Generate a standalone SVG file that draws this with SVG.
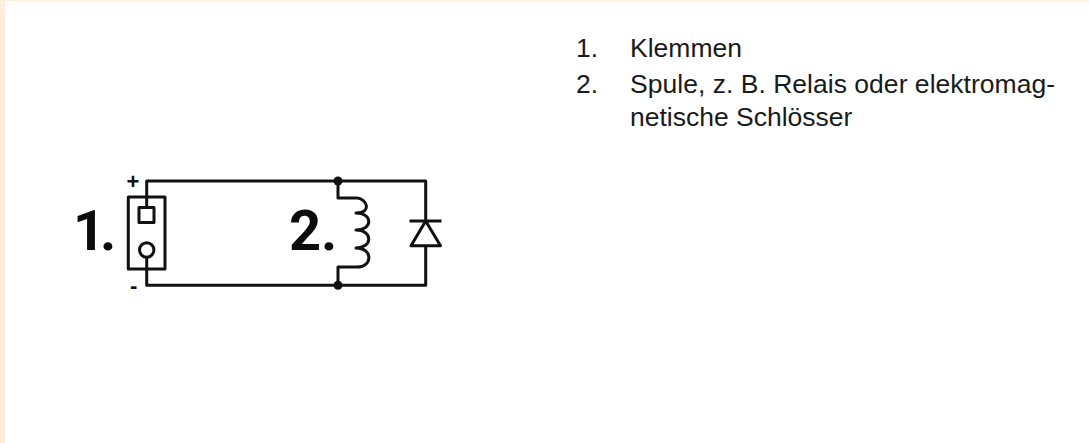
<svg xmlns="http://www.w3.org/2000/svg" width="1089" height="443" viewBox="0 0 1089 443">
<style>
.w{fill:none;stroke:#111;stroke-width:3;stroke-linejoin:round}
.t{font-family:"Liberation Sans",Arial,sans-serif;font-size:26.5px;fill:#1a1a1a}
.n{font-family:Roboto,"Liberation Sans",sans-serif;font-size:56px;font-weight:700;fill:#0c0c0c}
.s{font-family:"Liberation Sans",Arial,sans-serif;font-size:22px;font-weight:bold;fill:#111}
</style>
<rect width="1089" height="443" fill="#fff"/>
<rect width="1089" height="1" fill="#ffeedd"/>
<rect width="5" height="443" fill="#ffeedd"/>
<g id="connectors">
<path class="w" d="M146.7 207V181H425.7V221M425.7 246V285.3H146.7V257"/>
<path class="w" d="M338 181V198H357C366 198 373 213 356 213C373 213 373 230 356 230C373 230 373 248 356 248C373 248 373 267 357 267H338V285.3"/>
</g>
<g id="terminal">
<rect class="w" x="128.3" y="197" width="36.7" height="72"/>
<rect class="w" x="139" y="207.5" width="15" height="15"/>
<circle class="w" cx="146.7" cy="250" r="7.2"/>
<text class="s" x="126.5" y="189">+</text>
<text class="s" x="130" y="293">-</text>
</g>
<g id="coil">
<circle cx="338" cy="181" r="4.5" fill="#111"/>
<circle cx="338" cy="285.3" r="4.5" fill="#111"/>
</g>
<g id="diode">
<path class="w" d="M409.5 221H441.5M425.7 221L411 245.7H440.5Z"/>
</g>
<text class="n" x="73 100" y="250">1.</text>
<text class="n" x="289 321" y="250">2.</text>
<g id="legend">
<text class="t" x="576" y="57">1.</text><text class="t" x="630" y="57">Klemmen</text>
<text class="t" x="576" y="93">2.</text><text class="t" x="630" y="93" textLength="425">Spule, z. B. Relais oder elektromag-</text>
<text class="t" x="630" y="126">netische Schlösser</text>
</g>
</svg>
